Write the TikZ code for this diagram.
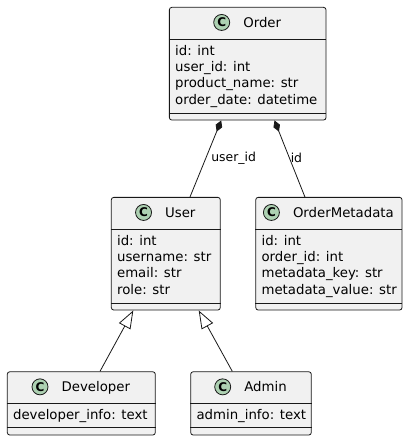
\documentclass[tikz,border=0pt]{standalone}
\usepackage{fontspec}
\setmainfont{DejaVu Sans}
\usetikzlibrary{positioning,arrows.meta}
\definecolor{umlfill}{HTML}{F1F1F1}
\definecolor{umlline}{HTML}{181818}
\definecolor{umlcirc}{HTML}{ADD1B2}
\tikzset{
  classbox/.style={draw=umlline, fill=umlfill, line width=0.8pt, rounded corners=2.5pt, inner sep=0pt},
  classname/.style={inner sep=0pt, text height=9.7pt, text depth=0pt, font=\fontsize{13.3}{16.3}\selectfont},
  classcirc/.style={circle, draw=umlline, fill=umlcirc, line width=0.8pt, minimum size=16pt, inner sep=0pt, font=\fontsize{12}{12}\selectfont\bfseries},
  attrs/.style={inner sep=0pt, align=left, anchor=north west, font=\fontsize{13.3}{16.3}\selectfont},
  sep/.style={draw=umlline, line width=0.8pt},
  comp/.style={draw=umlline, line width=0.8pt, {Diamond[length=12pt,width=7pt]}-},
  inherit/.style={draw=umlline, line width=0.8pt, {Triangle[length=18pt,width=13pt,fill=white]}-},
  lbl/.style={inner sep=0pt, anchor=west, font=\fontsize{12.4}{14}\selectfont}
}
\begin{document}
\begin{tikzpicture}[x=1pt,y=-1pt]
		\useasboundingbox (0,0) rectangle (408,441);

		% Order
		\node[classbox, minimum width=156.7pt, minimum height=112.7pt] (order) at (247.7,63.7) {};
		\node[classname] (orderN) at ([xshift=14.5pt,yshift=-15.5pt]order.north) {Order};
		\node[classcirc, left=13pt of orderN] (orderC) {C};
		\draw[sep] ([yshift=-32pt]order.north west) -- ([yshift=-32pt]order.north east);
		\draw[sep] ([yshift=7.3pt]order.south west) -- ([yshift=7.3pt]order.south east);
		\node[attrs] (orderA) at ([xshift=6pt,yshift=-38pt]order.north west) {id: int\\user\_id: int\\product\_name: str\\order\_date: datetime};

		% User
		\node[classbox, minimum width=109pt, minimum height=112.7pt] (user) at (165.8,253.7) {};
		\node[classname] (userN) at ([xshift=14.5pt,yshift=-15.5pt]user.north) {User};
		\node[classcirc, left=13pt of userN] (userC) {C};
		\draw[sep] ([yshift=-32pt]user.north west) -- ([yshift=-32pt]user.north east);
		\draw[sep] ([yshift=7.3pt]user.south west) -- ([yshift=7.3pt]user.south east);
		\node[attrs] (userA) at ([xshift=6pt,yshift=-38pt]user.north west) {id: int\\username: str\\email: str\\role: str};

		% OrderMetadata
		\node[classbox, minimum width=146.3pt, minimum height=112.7pt] (meta) at (328.9,253.7) {};
		\node[classname] (metaN) at ([xshift=14.5pt,yshift=-15.5pt]meta.north) {OrderMetadata};
		\node[classcirc, left=13pt of metaN] (metaC) {C};
		\draw[sep] ([yshift=-32pt]meta.north west) -- ([yshift=-32pt]meta.north east);
		\draw[sep] ([yshift=7.3pt]meta.south west) -- ([yshift=7.3pt]meta.south east);
		\node[attrs] (metaA) at ([xshift=6pt,yshift=-38pt]meta.north west) {id: int\\order\_id: int\\metadata\_key: str\\metadata\_value: str};

		% Developer
		\node[classbox, minimum width=148pt, minimum height=63.3pt] (dev) at (81.3,403.4) {};
		\node[classname] (devN) at ([xshift=14.5pt,yshift=-15.5pt]dev.north) {Developer};
		\node[classcirc, left=13pt of devN] (devC) {C};
		\draw[sep] ([yshift=-31.6pt]dev.north west) -- ([yshift=-31.6pt]dev.north east);
		\draw[sep] ([yshift=8.3pt]dev.south west) -- ([yshift=8.3pt]dev.south east);
		\node[attrs] (devA) at ([xshift=6pt,yshift=-38pt]dev.north west) {developer\_info: text};

		% Admin
		\node[classbox, minimum width=120.6pt, minimum height=63.3pt] (admin) at (251,403.4) {};
		\node[classname] (adminN) at ([xshift=14.5pt,yshift=-15.5pt]admin.north) {Admin};
		\node[classcirc, left=13pt of adminN] (adminC) {C};
		\draw[sep] ([yshift=-31.6pt]admin.north west) -- ([yshift=-31.6pt]admin.north east);
		\draw[sep] ([yshift=8.3pt]admin.south west) -- ([yshift=8.3pt]admin.south east);
		\node[attrs] (adminA) at ([xshift=6pt,yshift=-38pt]admin.north west) {admin\_info: text};

		% relations
		\draw[comp] ([xshift=-26.5pt]order.south) -- node[lbl, pos=0.49, xshift=5pt] (lblUser) {user\_id} ([xshift=24.2pt]user.north);
		\draw[comp] ([xshift=26.8pt]order.south) -- node[lbl, pos=0.49, xshift=1pt] (lblMeta) {id} ([xshift=-24pt]meta.north);
		\draw[inherit] ([xshift=-32.5pt]user.south) -- ([xshift=18.7pt]dev.north);
		\draw[inherit] ([xshift=32.9pt]user.south) -- ([xshift=-18.7pt]admin.north);
	\end{tikzpicture}
\end{document}
